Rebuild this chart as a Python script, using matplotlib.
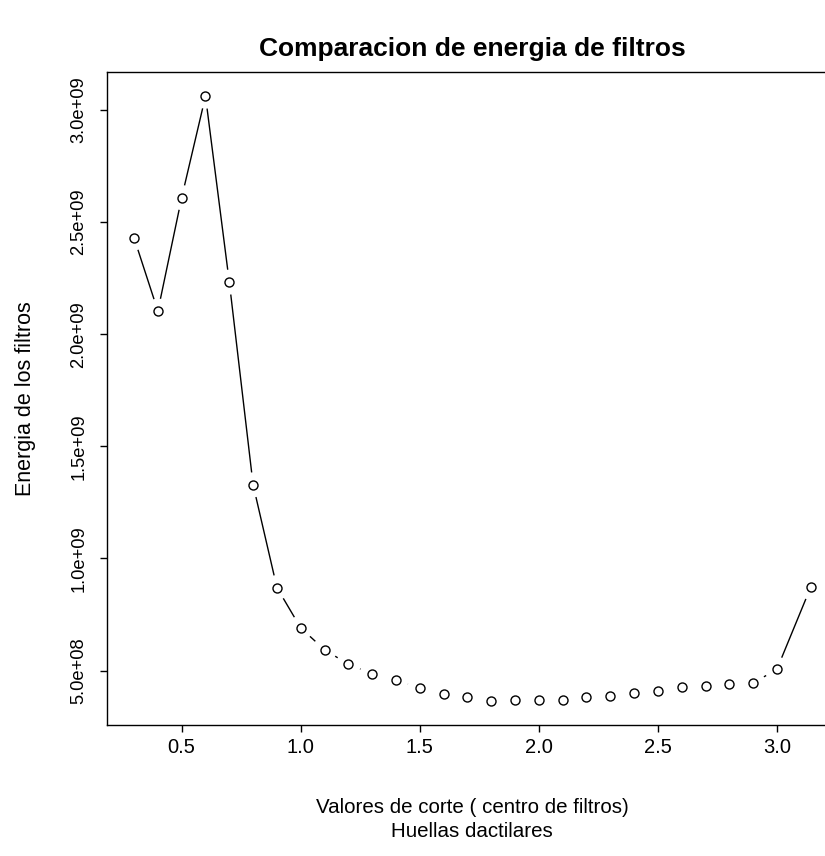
import numpy as np
import matplotlib
matplotlib.use('Agg')
import matplotlib.pyplot as plt
from matplotlib.ticker import FuncFormatter

plt.rcParams['font.family'] = ['Liberation Sans', 'DejaVu Sans']

# Data
cortes = [0.3, 0.4, 0.5, 0.6, 0.7, 0.8, 0.9, 1.0, 1.1, 1.2, 1.3, 1.4, 1.5, 1.6,
          1.7, 1.8, 1.9, 2.0, 2.1, 2.2, 2.3, 2.4, 2.5, 2.6, 2.7, 2.8, 2.9, 3.0,
          3.14159]
energia = [2.429e9, 2.103e9, 2.609e9, 3.061e9, 2.232e9, 1.328e9, 0.870e9,
           0.690e9, 0.593e9, 0.528e9, 0.486e9, 0.458e9, 0.422e9, 0.397e9,
           0.381e9, 0.365e9, 0.368e9, 0.368e9, 0.367e9, 0.381e9, 0.385e9,
           0.398e9, 0.410e9, 0.427e9, 0.433e9, 0.439e9, 0.444e9, 0.506e9,
           0.871e9]
xticks = [0.5, 1.0, 1.5, 2.0, 2.5, 3.0]
yticks = [5e8, 1e9, 1.5e9, 2e9, 2.5e9, 3e9]

fig = plt.figure(figsize=(8.25, 8.56), dpi=100)
# plot region as in R output (right edge falls just outside the image)
ax = fig.add_axes([0.1297, 0.1530, 0.8857, 0.7629])

x = np.array(cortes)
y = np.array(energia)

# R-style 4% axis expansion
xr = x.max() - x.min()
yr = y.max() - y.min()
ax.set_xlim(x.min() - 0.04 * xr, x.max() + 0.04 * xr)
ax.set_ylim(y.min() - 0.04 * yr, y.max() + 0.04 * yr)

# type="b": segments with gaps around the points
gap = 12.5  # pixels
pts = ax.transData.transform(np.column_stack([x, y]))
inv = ax.transData.inverted()
for i in range(len(pts) - 1):
    p1, p2 = pts[i], pts[i + 1]
    d = p2 - p1
    dist = np.hypot(d[0], d[1])
    if dist <= 2 * gap:
        continue
    u = d / dist
    seg = inv.transform(np.array([p1 + gap * u, p2 - gap * u]))
    ax.plot(seg[:, 0], seg[:, 1], color='black', lw=1.0, solid_capstyle='butt')

ax.plot(x, y, linestyle='none', marker='o', markersize=6.5, markerfacecolor='white',
        markeredgecolor='black', markeredgewidth=1.0)

ax.set_xticks(xticks)
ax.set_yticks(yticks)
ax.yaxis.set_major_formatter(FuncFormatter(lambda v, p: '%.1fe+%02d' % (v / 10 ** int(np.floor(np.log10(v))), int(np.floor(np.log10(v))))))
ax.tick_params(axis='both', direction='out', length=5, width=1, colors='black')
ax.tick_params(axis='x', pad=4, labelsize=14.5)
ax.tick_params(axis='y', pad=9, labelsize=13.2)
for lab in ax.get_yticklabels():
    lab.set_rotation(90)
    lab.set_va('center')

for s in ax.spines.values():
    s.set_linewidth(1.0)

ax.set_title('Comparacion de energia de filtros', fontsize=19, fontweight='bold', pad=11.5)
ax.set_xlabel('Valores de corte ( centro de filtros)\nHuellas dactilares', fontsize=14.8,
              labelpad=30, linespacing=1.3)
ax.set_ylabel('Energia de los filtros', fontsize=15.5, labelpad=25)

plt.savefig('out.png', dpi=100)
